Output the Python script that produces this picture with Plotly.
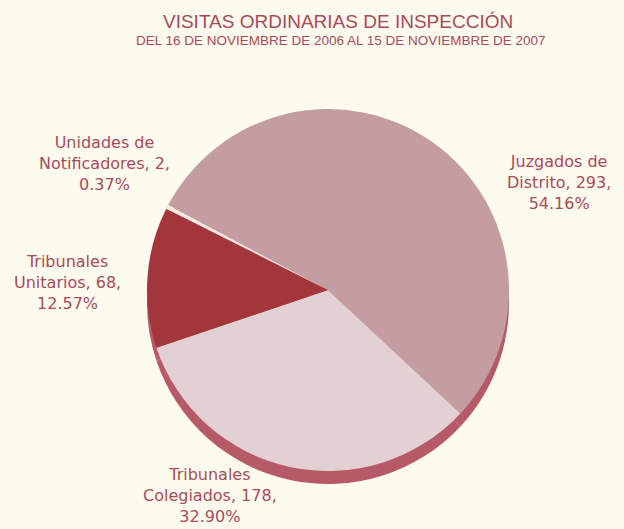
import plotly.graph_objects as go

# ---- data ----
categories = ["Juzgados de<br>Distrito", "Tribunales<br>Colegiados",
              "Tribunales<br>Unitarios", "Unidades de<br>Notificadores"]
visits = [293, 178, 68, 2]
top_colors = ["#c39d9f", "#e3d0d3", "#a3363b", "#f6e9e2"]
rim_color = "#b65a68"

title_text = "VISITAS ORDINARIAS DE INSPECCIÓN"
subtitle_text = "DEL 16 DE NOVIEMBRE DE 2006 AL 15 DE NOVIEMBRE DE 2007"

W, H = 624, 529
BG = "#fdfaee"
total = sum(visits)

# label placement (pixels) per category
label_pos = {
    "Juzgados de<br>Distrito": (559, 183),
    "Tribunales<br>Colegiados": (210, 495),
    "Tribunales<br>Unitarios": (67, 282),
    "Unidades de<br>Notificadores": (104, 163),
}

def px_x(x):
    return x / W

def px_y(y):
    return 1 - y / H

# pie geometry (pixels)
cx, cy, r, depth = 328, 290, 181, 13

fig = go.Figure()

# rim / depth layer
fig.add_trace(go.Pie(
    labels=categories, values=visits, sort=False, direction="clockwise",
    rotation=-62, textinfo="none", hoverinfo="skip", showlegend=False,
    marker=dict(colors=[rim_color] * len(visits), line=dict(width=0)),
    domain=dict(x=[px_x(cx - r), px_x(cx + r)],
                y=[px_y(cy + r + depth), px_y(cy - r + depth)]),
))

# top face
fig.add_trace(go.Pie(
    labels=categories, values=visits, sort=False, direction="clockwise",
    rotation=-62, textinfo="none", hoverinfo="label+value+percent",
    showlegend=False,
    marker=dict(colors=top_colors, line=dict(width=0)),
    domain=dict(x=[px_x(cx - r), px_x(cx + r)],
                y=[px_y(cy + r), px_y(cy - r)]),
))

text_color = "#a94a5b"
title_font = "Liberation Sans, Arial, sans-serif"
label_font = "DejaVu Sans, Liberation Sans, sans-serif"

annotations = [
    dict(text=title_text, x=px_x(338), y=px_y(21), xref="paper", yref="paper",
         showarrow=False, xanchor="center", yanchor="middle",
         font=dict(size=19, color=text_color, family=title_font)),
    dict(text=subtitle_text, x=px_x(341), y=px_y(41), xref="paper", yref="paper",
         showarrow=False, xanchor="center", yanchor="middle",
         font=dict(size=13.5, color=text_color, family=title_font)),
]
for cat, v in zip(categories, visits):
    lx, ly = label_pos[cat]
    annotations.append(dict(
        text=f"{cat}, {v},<br>{100 * v / total:.2f}%",
        x=px_x(lx), y=px_y(ly), xref="paper", yref="paper",
        showarrow=False, xanchor="center", yanchor="middle", align="center",
        font=dict(size=16, color=text_color, family=label_font)))

fig.update_layout(
    width=W, height=H, autosize=False,
    margin=dict(l=0, r=0, t=0, b=0),
    paper_bgcolor=BG, plot_bgcolor=BG,
    annotations=annotations,
)

fig.write_html(
    "out.html",
    config={"displayModeBar": False},
    post_script=("document.body.style.margin='0';"
                 "document.body.style.background='" + BG + "';"
                 "document.body.style.overflow='hidden';"),
)
